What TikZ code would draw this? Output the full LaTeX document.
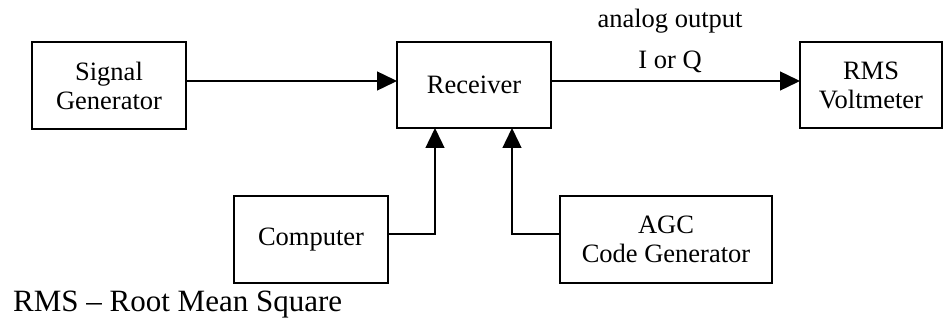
\documentclass[tikz,border=0pt]{standalone}
\usepackage{fontspec}
\setmainfont{Liberation Serif}
\usetikzlibrary{arrows.meta}
\begin{document}
\begin{tikzpicture}[x=1pt,y=-1pt,
  blk/.style={draw=black, line width=1.4pt, inner sep=0pt, align=center,
    font=\fontsize{26.5}{29}\selectfont},
  conn/.style={line width=1.4pt, -{Triangle[length=20pt,width=19pt]}},
  lbl/.style={inner sep=0pt, font=\fontsize{26.5}{29}\selectfont}]
\useasboundingbox (0,0) rectangle (943,326);
\node[blk, minimum width=154pt, minimum height=87pt] (sg) at (109,85.5) {Signal\\Generator};
\node[blk, minimum width=154pt, minimum height=86pt] (rx) at (474,85) {Receiver};
\node[blk, minimum width=142pt, minimum height=86pt] (rms) at (871,85) {RMS\\Voltmeter};
\node[blk, minimum width=154pt, minimum height=87pt] (comp) at (311,239.5) {Computer};
\node[blk, minimum width=212pt, minimum height=87pt] (agc) at (666,239.5) {AGC\\Code Generator};
\coordinate (sgo) at (186,81);
\coordinate (rxi) at (397,81);
\coordinate (rxo) at (551,81);
\coordinate (rmsi) at (800,81);
\coordinate (ca) at (388,234);
\coordinate (cb) at (435,234);
\coordinate (cc) at (435,128);
\coordinate (aa) at (560,234);
\coordinate (ab) at (512,234);
\coordinate (ac) at (512,128);
\draw[conn] (sgo) -- (rxi);
\draw[conn] (rxo) -- (rmsi);
\draw[conn] (ca) -- (cb) -- (cc);
\draw[conn] (aa) -- (ab) -- (ac);
\node[lbl, anchor=base] (l1) at (670,28) {analog output};
\node[lbl, anchor=base] (l2) at (670,69) {I or Q};
\node[inner sep=0pt, anchor=base west, font=\fontsize{31}{34}\selectfont] (fn) at (13,311) {RMS – Root Mean Square};
\end{tikzpicture}
\end{document}
